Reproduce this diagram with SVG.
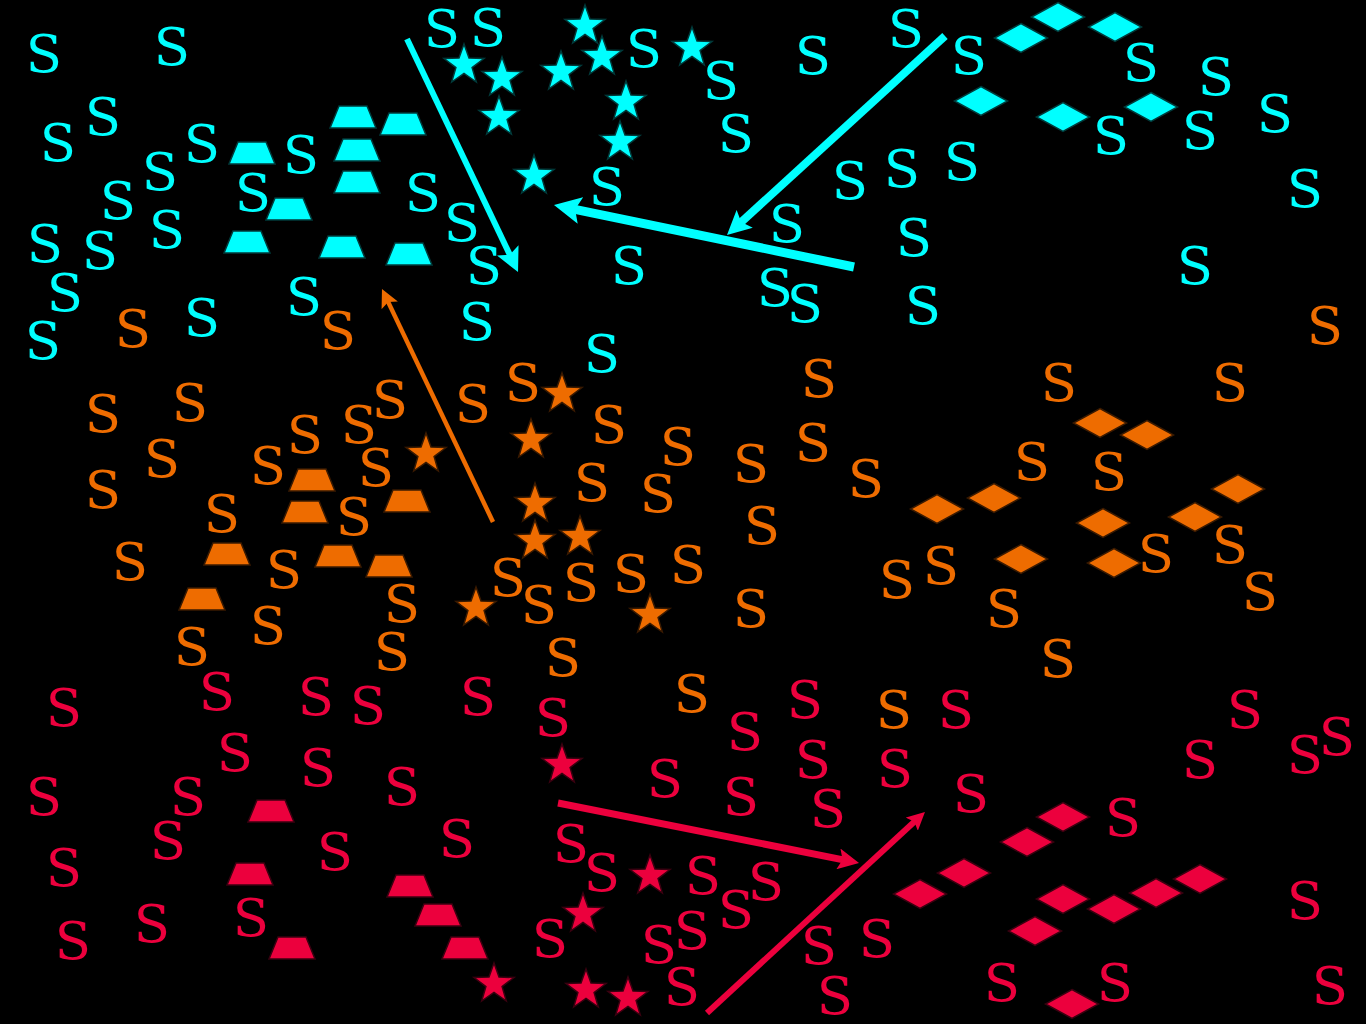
<svg xmlns="http://www.w3.org/2000/svg" xmlns:xlink="http://www.w3.org/1999/xlink" width="1366" height="1024" viewBox="0 0 1366 1024">
<style>
text{font-family:"DejaVu Serif","Liberation Serif",serif;font-size:53px;text-anchor:middle}
.c{fill:#00ffff}.o{fill:#ee6c00}.r{fill:#ec003d}
.cs{fill:#00ffff;stroke:#003a3a;stroke-width:1.5}
.os{fill:#ee6c00;stroke:#3a1a00;stroke-width:1.5}
.rs{fill:#ec003d;stroke:#3a0010;stroke-width:1.5}
.lc{stroke:#00ffff;fill:none}.lo{stroke:#ee6c00;fill:none}.lr{stroke:#ec003d;fill:none}
</style>
<defs>
<polygon id="star" points="0,-21 5,-6.9 20,-6.5 8.1,2.6 12.3,17 0,8.5 -12.3,17 -8.1,2.6 -20,-6.5 -5,-6.9"/>
<polygon id="trap" points="-14,-11 14,-11 23,11 -23,11"/>
<polygon id="dia" points="0,-14.5 26.5,0 0,14.5 -26.5,0"/>
<marker id="mc" viewBox="0 0 10 10" refX="3" refY="5" markerWidth="3" markerHeight="3" orient="auto" markerUnits="strokeWidth"><path d="M0,0 L10,5 L0,10 L2,5 z" fill="#00ffff"/></marker>
<marker id="mc4" viewBox="0 0 10 10" refX="3" refY="5" markerWidth="4" markerHeight="4" orient="auto" markerUnits="strokeWidth"><path d="M0,0 L10,5 L0,10 L2,5 z" fill="#00ffff"/></marker>
<marker id="mo" viewBox="0 0 10 10" refX="3" refY="5" markerWidth="4" markerHeight="4" orient="auto" markerUnits="strokeWidth"><path d="M0,0 L10,5 L0,10 L2,5 z" fill="#ee6c00"/></marker>
<marker id="mr" viewBox="0 0 10 10" refX="3" refY="5" markerWidth="3" markerHeight="3" orient="auto" markerUnits="strokeWidth"><path d="M0,0 L10,5 L0,10 L2,5 z" fill="#ec003d"/></marker>
</defs>
<rect width="1366" height="1024" fill="#000"/>
<g id="cyan-shapes">
<use xlink:href="#trap" class="cs" x="252" y="153"/><use xlink:href="#trap" class="cs" x="353" y="117"/><use xlink:href="#trap" class="cs" x="403" y="124"/><use xlink:href="#trap" class="cs" x="357" y="150"/><use xlink:href="#trap" class="cs" x="357" y="182"/><use xlink:href="#trap" class="cs" x="289" y="209"/><use xlink:href="#trap" class="cs" x="247" y="242"/><use xlink:href="#trap" class="cs" x="342" y="247"/><use xlink:href="#trap" class="cs" x="409" y="254"/>
<use xlink:href="#star" class="cs" x="585" y="26"/><use xlink:href="#star" class="cs" x="464" y="65"/><use xlink:href="#star" class="cs" x="502" y="78"/><use xlink:href="#star" class="cs" x="561" y="72"/><use xlink:href="#star" class="cs" x="602" y="57"/><use xlink:href="#star" class="cs" x="692" y="48"/><use xlink:href="#star" class="cs" x="499" y="117"/><use xlink:href="#star" class="cs" x="626" y="102"/><use xlink:href="#star" class="cs" x="620" y="142"/><use xlink:href="#star" class="cs" x="534" y="176"/>
<use xlink:href="#dia" class="cs" x="1058" y="17"/><use xlink:href="#dia" class="cs" x="1021" y="38"/><use xlink:href="#dia" class="cs" x="1115" y="27"/><use xlink:href="#dia" class="cs" x="981" y="101"/><use xlink:href="#dia" class="cs" x="1063" y="117"/><use xlink:href="#dia" class="cs" x="1151" y="107"/>
</g>
<g id="orange-shapes">
<use xlink:href="#trap" class="os" x="312" y="480"/><use xlink:href="#trap" class="os" x="305" y="512"/><use xlink:href="#trap" class="os" x="407" y="501"/><use xlink:href="#trap" class="os" x="227" y="554"/><use xlink:href="#trap" class="os" x="338" y="556"/><use xlink:href="#trap" class="os" x="389" y="566"/><use xlink:href="#trap" class="os" x="202" y="599"/>
<use xlink:href="#star" class="os" x="426" y="454"/><use xlink:href="#star" class="os" x="562" y="394"/><use xlink:href="#star" class="os" x="531" y="440"/><use xlink:href="#star" class="os" x="535" y="504"/><use xlink:href="#star" class="os" x="535" y="541"/><use xlink:href="#star" class="os" x="580" y="537"/><use xlink:href="#star" class="os" x="476" y="608"/><use xlink:href="#star" class="os" x="650" y="615"/>
<use xlink:href="#dia" class="os" x="1100" y="423"/><use xlink:href="#dia" class="os" x="1147" y="435"/><use xlink:href="#dia" class="os" x="937" y="509"/><use xlink:href="#dia" class="os" x="994" y="498"/><use xlink:href="#dia" class="os" x="1103" y="523"/><use xlink:href="#dia" class="os" x="1238" y="489"/><use xlink:href="#dia" class="os" x="1195" y="517"/><use xlink:href="#dia" class="os" x="1021" y="559"/><use xlink:href="#dia" class="os" x="1114" y="563"/>
</g>
<g id="red-shapes">
<use xlink:href="#trap" class="rs" x="271" y="811"/><use xlink:href="#trap" class="rs" x="250" y="874"/><use xlink:href="#trap" class="rs" x="410" y="886"/><use xlink:href="#trap" class="rs" x="438" y="915"/><use xlink:href="#trap" class="rs" x="292" y="948"/><use xlink:href="#trap" class="rs" x="465" y="948"/>
<use xlink:href="#star" class="rs" x="562" y="765"/><use xlink:href="#star" class="rs" x="650" y="876"/><use xlink:href="#star" class="rs" x="583" y="914"/><use xlink:href="#star" class="rs" x="494" y="984"/><use xlink:href="#star" class="rs" x="586" y="990"/><use xlink:href="#star" class="rs" x="628" y="998"/>
<use xlink:href="#dia" class="rs" x="1063" y="817"/><use xlink:href="#dia" class="rs" x="1027" y="842"/><use xlink:href="#dia" class="rs" x="964" y="873"/><use xlink:href="#dia" class="rs" x="920" y="894"/><use xlink:href="#dia" class="rs" x="1063" y="899"/><use xlink:href="#dia" class="rs" x="1114" y="909"/><use xlink:href="#dia" class="rs" x="1156" y="893"/><use xlink:href="#dia" class="rs" x="1200" y="879"/><use xlink:href="#dia" class="rs" x="1035" y="931"/><use xlink:href="#dia" class="rs" x="1072" y="1004"/>
</g>
<g id="cyan-texts" class="c">
<text x="44" y="72">S</text><text x="172" y="65">S</text><text x="103" y="135">S</text><text x="58" y="161">S</text><text x="202" y="162">S</text><text x="160" y="190">S</text><text x="301" y="173">S</text><text x="118" y="219">S</text><text x="253" y="211">S</text><text x="167" y="248">S</text><text x="45" y="262">S</text><text x="100" y="269">S</text><text x="65" y="311">S</text><text x="43" y="359">S</text><text x="202" y="336">S</text><text x="304" y="315">S</text><text x="423" y="211">S</text><text x="442" y="47">S</text><text x="488" y="46">S</text><text x="462" y="241">S</text><text x="484" y="284">S</text><text x="477" y="340">S</text><text x="644" y="67">S</text><text x="721" y="99">S</text><text x="736" y="152">S</text><text x="813" y="74">S</text><text x="906" y="47">S</text><text x="607" y="205">S</text><text x="629" y="284">S</text><text x="787" y="242">S</text><text x="775" y="306">S</text><text x="805" y="322">S</text><text x="850" y="199">S</text><text x="902" y="187">S</text><text x="914" y="256">S</text><text x="923" y="324">S</text><text x="962" y="180">S</text><text x="969" y="74">S</text><text x="1141" y="81">S</text><text x="1216" y="95">S</text><text x="1111" y="154">S</text><text x="1200" y="149">S</text><text x="1275" y="132">S</text><text x="1305" y="207">S</text><text x="1195" y="284">S</text><text x="602" y="372">S</text>
</g>
<g id="orange-texts" class="o">
<text x="133" y="347">S</text><text x="338" y="349">S</text><text x="103" y="432">S</text><text x="190" y="421">S</text><text x="162" y="477">S</text><text x="103" y="508">S</text><text x="305" y="453">S</text><text x="359" y="443">S</text><text x="390" y="418">S</text><text x="268" y="484">S</text><text x="376" y="486">S</text><text x="222" y="532">S</text><text x="354" y="535">S</text><text x="130" y="580">S</text><text x="284" y="588">S</text><text x="402" y="622">S</text><text x="268" y="644">S</text><text x="192" y="665">S</text><text x="392" y="670">S</text><text x="473" y="422">S</text><text x="523" y="401">S</text><text x="609" y="443">S</text><text x="678" y="465">S</text><text x="592" y="501">S</text><text x="658" y="512">S</text><text x="751" y="482">S</text><text x="813" y="461">S</text><text x="819" y="397">S</text><text x="866" y="497">S</text><text x="762" y="544">S</text><text x="688" y="583">S</text><text x="631" y="592">S</text><text x="581" y="601">S</text><text x="508" y="596">S</text><text x="539" y="623">S</text><text x="751" y="627">S</text><text x="563" y="676">S</text><text x="897" y="598">S</text><text x="941" y="584">S</text><text x="1059" y="401">S</text><text x="1230" y="401">S</text><text x="1032" y="480">S</text><text x="1109" y="490">S</text><text x="1004" y="627">S</text><text x="1156" y="572">S</text><text x="1230" y="563">S</text><text x="1260" y="610">S</text><text x="1058" y="677">S</text><text x="1325" y="344">S</text><text x="692" y="712">S</text><text x="894" y="728">S</text>
</g>
<g id="red-texts" class="r">
<text x="64" y="726">S</text><text x="217" y="710">S</text><text x="316" y="715">S</text><text x="368" y="724">S</text><text x="235" y="771">S</text><text x="318" y="786">S</text><text x="402" y="805">S</text><text x="44" y="815">S</text><text x="188" y="815">S</text><text x="168" y="859">S</text><text x="335" y="870">S</text><text x="64" y="886">S</text><text x="152" y="942">S</text><text x="251" y="936">S</text><text x="73" y="959">S</text><text x="457" y="857">S</text><text x="478" y="715">S</text><text x="553" y="736">S</text><text x="805" y="718">S</text><text x="745" y="750">S</text><text x="665" y="797">S</text><text x="741" y="815">S</text><text x="813" y="778">S</text><text x="828" y="827">S</text><text x="895" y="787">S</text><text x="571" y="862">S</text><text x="602" y="891">S</text><text x="703" y="894">S</text><text x="766" y="900">S</text><text x="736" y="928">S</text><text x="692" y="949">S</text><text x="659" y="963">S</text><text x="550" y="957">S</text><text x="682" y="1005">S</text><text x="819" y="964">S</text><text x="877" y="957">S</text><text x="835" y="1014">S</text><text x="956" y="728">S</text><text x="971" y="812">S</text><text x="1245" y="728">S</text><text x="1200" y="778">S</text><text x="1305" y="773">S</text><text x="1337" y="755">S</text><text x="1123" y="836">S</text><text x="1305" y="919">S</text><text x="1002" y="1001">S</text><text x="1115" y="1001">S</text><text x="1330" y="1004">S</text>
</g>
<g id="connectors">
<line class="lc" x1="407" y1="39" x2="510.8" y2="256.8" stroke-width="6" marker-end="url(#mc4)"/>
<line class="lc" x1="945" y1="36" x2="739.4" y2="223.7" stroke-width="8" marker-end="url(#mc)"/>
<line class="lc" x1="854" y1="267" x2="572.5" y2="208.8" stroke-width="9" marker-end="url(#mc)"/>
<line class="lo" x1="493" y1="522" x2="387.4" y2="300.4" stroke-width="4.5" marker-end="url(#mo)"/>
<line class="lr" x1="558" y1="803" x2="844.6" y2="860.1" stroke-width="7" marker-end="url(#mr)"/>
<line class="lr" x1="707" y1="1013" x2="915.7" y2="820.5" stroke-width="6" marker-end="url(#mr)"/>
</g>
</svg>
